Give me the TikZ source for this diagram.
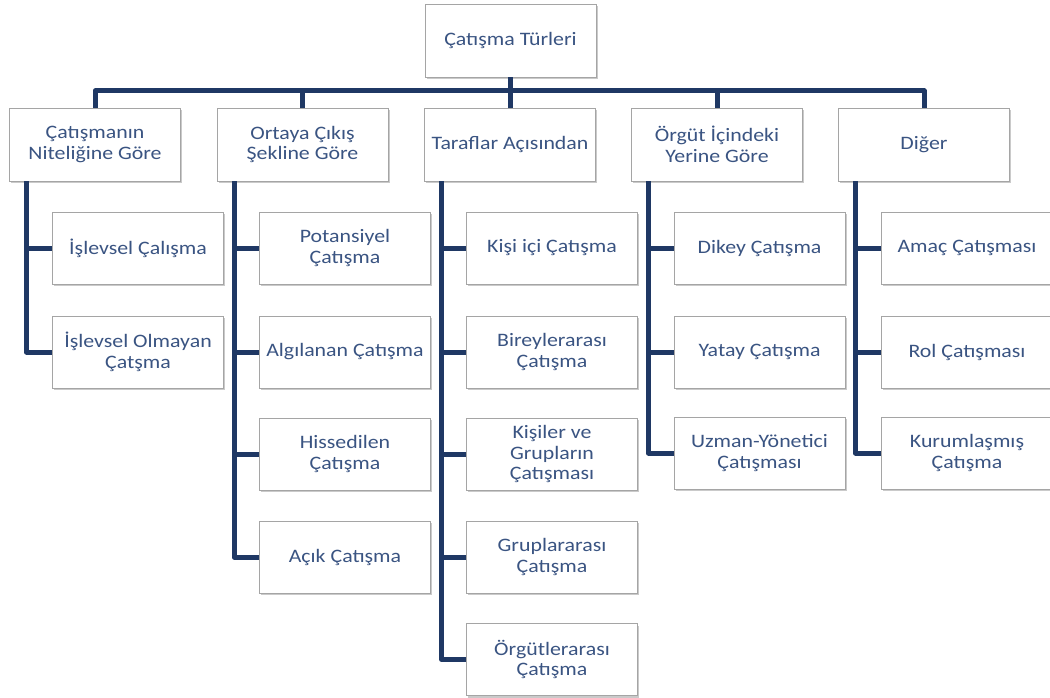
\documentclass[tikz,border=0pt]{standalone}
\usepackage{fontspec}
\setmainfont{Carlito}[FakeStretch=1.15]
\usetikzlibrary{shadows}
\definecolor{linec}{RGB}{31,56,100}
\definecolor{txtc}{RGB}{58,84,130}
\definecolor{bordc}{RGB}{165,165,165}
\begin{document}
\begin{tikzpicture}[x=1pt,y=-1pt,
  box/.style={draw=bordc, line width=0.8pt, fill=white, minimum width=171pt, minimum height=72pt,
    align=center, text=txtc, font=\fontsize{19}{20.5}\selectfont, inner sep=2pt,
    drop shadow={opacity=0.35, shadow xshift=1.5pt, shadow yshift=-2pt, fill=black!60}},
  conn/.style={draw=linec, line width=5pt, line join=round}]
\useasboundingbox (0,0) rectangle (1050,697);
% top and level 1
\node[box,minimum height=73pt] (top) at (510.5,40.5) {Çatışma Türleri};
\node[box,minimum height=73pt] (a) at (95,144.5) {Çatışmanın\\Niteliğine Göre};
\node[box,minimum height=73pt] (b) at (302.5,144.5) {Ortaya Çıkış\\Şekline Göre};
\node[box,minimum height=73pt] (c) at (510,144.5) {Taraflar Açısından};
\node[box,minimum height=73pt] (d) at (717,144.5) {Örgüt İçindeki\\Yerine Göre};
\node[box,minimum height=73pt] (e) at (924,144.5) {Diğer};
% column 1
\node[box] (a1) at (138,248) {İşlevsel Çalışma};
\node[box] (a2) at (138,352) {İşlevsel Olmayan\\Çatşma};
% column 2
\node[box] (b1) at (345,248) {Potansiyel\\Çatışma};
\node[box] (b2) at (345,352) {Algılanan Çatışma};
\node[box] (b3) at (345,454) {Hissedilen\\Çatışma};
\node[box] (b4) at (345,557) {Açık Çatışma};
% column 3
\node[box] (c1) at (552,248) {Kişi içi Çatışma};
\node[box] (c2) at (552,352) {Bireylerarası\\Çatışma};
\node[box] (c3) at (552,454) {Kişiler ve\\Grupların\\Çatışması};
\node[box] (c4) at (552,557) {Gruplararası\\Çatışma};
\node[box] (c5) at (552,659.5) {Örgütlerarası\\Çatışma};
% column 4
\node[box] (d1) at (759.5,248) {Dikey Çatışma};
\node[box] (d2) at (759.5,352) {Yatay Çatışma};
\node[box] (d3) at (759.5,453) {Uzman-Yönetici\\Çatışması};
% column 5
\node[box] (e1) at (967,248) {Amaç Çatışması};
\node[box] (e2) at (967,352) {Rol Çatışması};
\node[box] (e3) at (967,453) {Kurumlaşmış\\Çatışma};
% connectors from top
\foreach \n in {a,b,c,d,e}
  \draw[conn] (top.south) -- ++(0,13.5) -| (\n.north);
% trunks
\foreach \p/\kids in {a/{a1,a2}, b/{b1,b2,b3,b4}, c/{c1,c2,c3,c4,c5}, d/{d1,d2,d3}, e/{e1,e2,e3}}
  \foreach \k in \kids
    \draw[conn] ([xshift=17.5pt]\p.south west) |- (\k.west);
\end{tikzpicture}
\end{document}
